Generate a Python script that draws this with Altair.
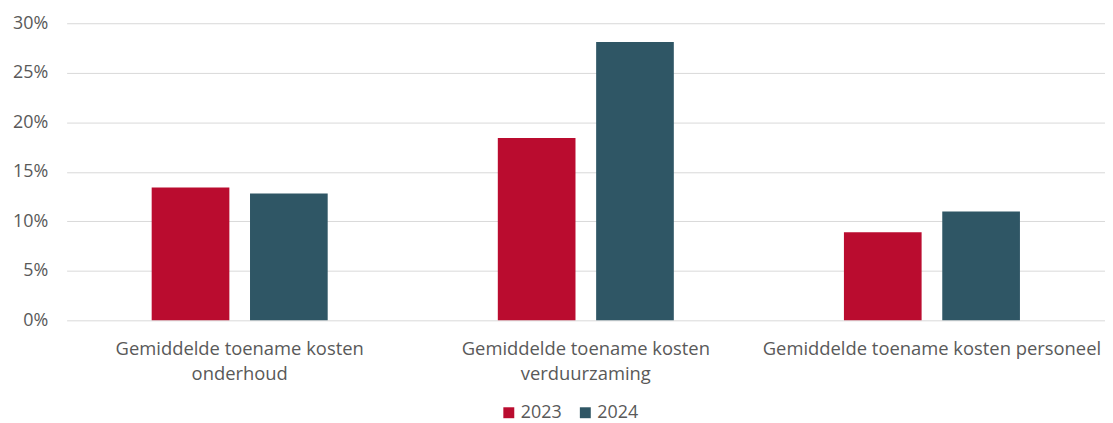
import altair as alt
import pandas as pd

categories = [
    "Gemiddelde toename kosten\nonderhoud",
    "Gemiddelde toename kosten\nverduurzaming",
    "Gemiddelde toename kosten personeel",
]
years = ["2023", "2024"]
values_2023 = [0.134, 0.184, 0.089]
values_2024 = [0.128, 0.281, 0.110]
y_ticks = [0, 0.05, 0.10, 0.15, 0.20, 0.25, 0.30]
colors = ["#BA0C2F", "#2F5665"]

rows = []
for c, a, b in zip(categories, values_2023, values_2024):
    rows.append({"categorie": c, "jaar": years[0], "waarde": a})
    rows.append({"categorie": c, "jaar": years[1], "waarde": b})
df = pd.DataFrame(rows)

FONT = "Open Sans"
TXT = "#595959"

chart = (
    alt.Chart(df)
    .mark_bar()
    .encode(
        x=alt.X(
            "categorie:N",
            sort=categories,
            scale=alt.Scale(paddingInner=0, paddingOuter=0),
            axis=alt.Axis(
                title=None,
                labelAngle=0,
                domain=False,
                ticks=False,
                labelExpr="split(datum.label, '\\n')",
                labelFontSize=18.5,
                labelFont=FONT,
                labelColor=TXT,
                labelPadding=19,
                labelLineHeight=26,
                labelLimit=600,
            ),
        ),
        xOffset=alt.XOffset(
            "jaar:N",
            sort=years,
            scale=alt.Scale(paddingInner=0.21, paddingOuter=0.865),
        ),
        y=alt.Y(
            "waarde:Q",
            scale=alt.Scale(domain=[0, 0.3], nice=False),
            axis=alt.Axis(
                title=None,
                format=".0%",
                values=y_ticks,
                domain=False,
                ticks=False,
                gridColor="#d9d9d9",
                gridWidth=1,
                labelFontSize=18,
                labelFont=FONT,
                labelColor=TXT,
                labelPadding=19,
            ),
        ),
        color=alt.Color(
            "jaar:N",
            scale=alt.Scale(domain=years, range=colors),
            legend=alt.Legend(
                title=None,
                orient="none",
                legendX=436,
                legendY=383,
                direction="horizontal",
                symbolType="square",
                symbolSize=121,
                symbolStrokeWidth=0,
                labelFontSize=18,
                labelFont=FONT,
                labelColor=TXT,
                labelOffset=3,
                columnPadding=14,
            ),
        ),
    )
    .properties(width=1045, height=299, padding={"left": 4, "top": 5, "right": 0, "bottom": 0})
    .configure_view(stroke=None)
)

chart.save("out.html", embed_options={"renderer": "svg", "actions": False})
